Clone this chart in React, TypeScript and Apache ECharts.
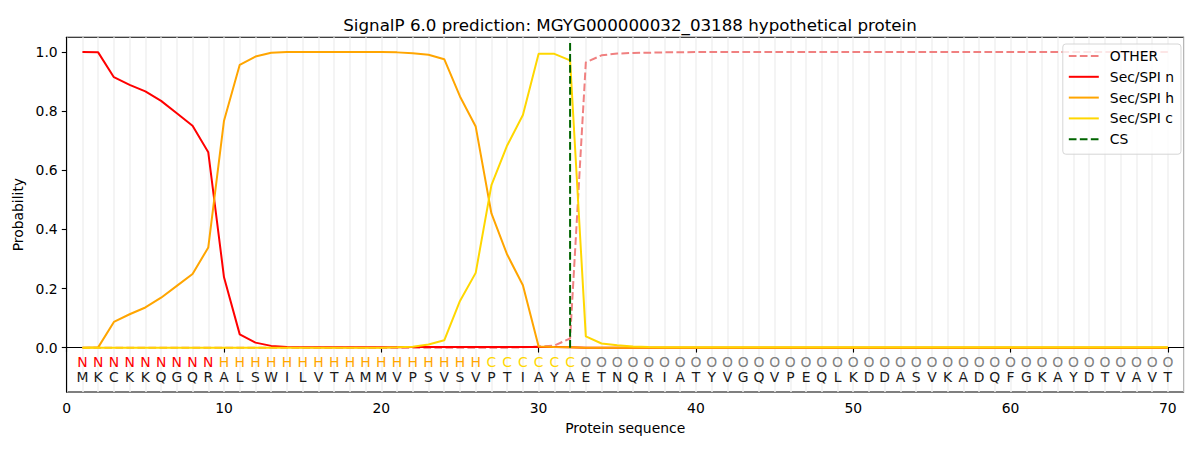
import React, { useEffect, useRef } from "react";
import * as echarts from "echarts";

const sequence = "MKCKKQGQRALSWILVTAMMVPSVSVPTIAYAETNQRIATYVGQVPEQLKDDASVKADQFGKAYDTVAVT".split("");
const regionLabels = [
  ..."NNNNNNNNN".split(""),
  ..."HHHHHHHHHHHHHHHHH".split(""),
  ..."CCCCCC".split(""),
  ..."OOOOOOOOOOOOOOOOOOOOOOOOOOOOOOOOOOOOOO".split(""),
];
const positions = sequence.map((_, i) => i + 1);

const otherProb = [
  0, 0, 0, 0, 0, 0, 0, 0, 0, 0,
  0, 0, 0, 0, 0, 0, 0, 0, 0, 0,
  0, 0, 0, 0, 0, 0, 0, 0, 0.001, 0.004,
  0.007, 0.031, 0.965, 0.989, 0.995, 0.997, 0.998, 0.999, 0.999, 1.0,
  1.0, 1.0, 1.0, 1.0, 1.0, 1.0, 1.0, 1.0, 1.0, 1.0,
  1.0, 1.0, 1.0, 1.0, 1.0, 1.0, 1.0, 1.0, 1.0, 1.0,
  1.0, 1.0, 1.0, 1.0, 1.0, 1.0, 1.0, 1.0, 1.0, 1.0,
];
const nProb = [
  1.0, 0.999, 0.915, 0.889, 0.867, 0.835, 0.793, 0.751, 0.661, 0.238,
  0.045, 0.017, 0.006, 0.002, 0.001, 0.001, 0.001, 0.001, 0.001, 0.001,
  0.001, 0.002, 0.002, 0.002, 0.002, 0.002, 0.002, 0.002, 0.002, 0.002,
  0.002, 0.001, 0, 0, 0, 0, 0, 0, 0, 0,
  0, 0, 0, 0, 0, 0, 0, 0, 0, 0,
  0, 0, 0, 0, 0, 0, 0, 0, 0, 0,
  0, 0, 0, 0, 0, 0, 0, 0, 0, 0,
];
const hProb = [
  0, 0.001, 0.087, 0.113, 0.136, 0.169, 0.209, 0.249, 0.339, 0.768,
  0.957, 0.985, 0.998, 1.0, 1.0, 1.0, 1.0, 1.0, 1.0, 1.0,
  0.999, 0.996, 0.991, 0.976, 0.85, 0.748, 0.454, 0.315, 0.211, 0.004,
  0.002, 0.001, 0, 0, 0, 0, 0, 0, 0, 0,
  0, 0, 0, 0, 0, 0, 0, 0, 0, 0,
  0, 0, 0, 0, 0, 0, 0, 0, 0, 0,
  0, 0, 0, 0, 0, 0, 0, 0, 0, 0,
];
const cProb = [
  0, 0, 0, 0, 0, 0, 0, 0, 0, 0,
  0, 0, 0, 0, 0, 0, 0, 0, 0, 0,
  0.001, 0.003, 0.011, 0.025, 0.158, 0.253, 0.55, 0.684, 0.787, 0.994,
  0.994, 0.972, 0.038, 0.014, 0.008, 0.004, 0.002, 0.001, 0.001, 0.001,
  0.001, 0.001, 0.001, 0.001, 0.001, 0.001, 0.001, 0.001, 0.001, 0.001,
  0.001, 0.001, 0.001, 0.001, 0.001, 0.001, 0.001, 0.001, 0.001, 0.001,
  0.001, 0.001, 0.001, 0.001, 0.001, 0.001, 0.001, 0.001, 0.001, 0.001,
];
const csPosition = 32;
const csLine = [[csPosition, 0], [csPosition, 1.036]];

const xTicks = [0, 10, 20, 30, 40, 50, 60, 70];
const yTicks = [0, 0.2, 0.4, 0.6, 0.8, 1.0];

const regionColors: Record<string, string> = {
  N: "#ff0000",
  H: "#ffa500",
  C: "#ffd700",
  O: "#808080",
};

const FONT = "DejaVu Sans";

export default function App() {
  const ref = useRef<HTMLDivElement>(null);
  useEffect(() => {
    document.body.style.margin = "0";
    const chart = echarts.init(ref.current!, null, { renderer: "svg" });
    const textData = positions.flatMap((p, i) => [
      [p, -0.047, regionLabels[i], regionColors[regionLabels[i]]],
      [p, -0.1, sequence[i], "#1a1a1a"],
    ]);
    const mk = (name: string, vals: number[], color: string, dashed = false) => ({
      name,
      type: "line",
      data: positions.map((p, i) => [p, vals[i]]),
      symbol: "none",
      lineStyle: { color, width: 2, type: dashed ? [7.7, 3.3] : "solid" },
      itemStyle: { color },
      z: 3,
    });
    chart.setOption({
      animation: false,
      textStyle: { fontFamily: FONT },
      title: {
        text: "SignalP 6.0 prediction: MGYG000000032_03188 hypothetical protein",
        left: 625,
        textAlign: "center",
        top: 11,
        textStyle: { fontFamily: FONT, fontSize: 16.7, fontWeight: "normal", color: "#000" },
      },
      legend: {
        orient: "vertical",
        right: 19,
        top: 44,
        itemWidth: 30,
        itemHeight: 14,
        itemGap: 6.8,
        padding: [5, 7, 8, 5],
        borderColor: "#d6d6d6",
        borderWidth: 1,
        borderRadius: 3,
        backgroundColor: "rgba(255,255,255,0.8)",
        align: "left",
        itemStyle: { opacity: 0 },
        textStyle: { fontFamily: FONT, fontSize: 13.9, color: "#000", padding: [0, 0, 0, 6] },
        data: ["OTHER", "Sec/SPI n", "Sec/SPI h", "Sec/SPI c", "CS"],
      },
      grid: {
        left: 66.7,
        right: 16.4,
        top: 37.3,
        bottom: 58,
        show: true,
        borderColor: "#000",
        borderWidth: 1.1,
        backgroundColor: "transparent",
      },
      xAxis: [
        {
          type: "value",
          min: 0,
          max: 71,
          name: "Protein sequence",
          nameLocation: "middle",
          nameGap: 29,
          nameTextStyle: { fontFamily: FONT, fontSize: 13.9, color: "#000" },
          axisLine: { show: true, lineStyle: { color: "#000", width: 1.1 } },
          axisTick: { show: true, length: 4.9, customValues: xTicks, lineStyle: { color: "#000", width: 1.1 } },
          axisLabel: { customValues: xTicks, margin: 9, fontFamily: FONT, fontSize: 13.9, color: "#000" },
          splitLine: { show: false },
        },
        {
          type: "value",
          min: 0,
          max: 71,
          interval: 1,
          position: "bottom",
          axisLine: { show: false },
          axisTick: { show: false },
          axisLabel: { show: false },
          splitLine: { show: true, lineStyle: { color: "#f0f0f0", width: 1.5 } },
        },
      ],
      yAxis: {
        type: "value",
        min: -0.15,
        max: 1.05,
        name: "Probability",
        nameLocation: "middle",
        nameGap: 35,
        nameTextStyle: { fontFamily: FONT, fontSize: 13.9, color: "#000" },
        axisLine: { show: true, lineStyle: { color: "#000", width: 1.1 } },
        axisTick: { show: true, length: 4.9, customValues: yTicks, lineStyle: { color: "#000", width: 1.1 } },
        axisLabel: {
          customValues: yTicks,
          margin: 9,
          fontFamily: FONT,
          fontSize: 13.9,
          color: "#000",
          formatter: (v: number) => v.toFixed(1),
        },
        splitLine: { show: false },
      },
      series: [
        mk("OTHER", otherProb, "#f08080", true),
        mk("Sec/SPI n", nProb, "#ff0000"),
        mk("Sec/SPI h", hProb, "#ffa500"),
        mk("Sec/SPI c", cProb, "#ffd700"),
        {
          name: "CS",
          type: "line",
          data: csLine,
          symbol: "none",
          lineStyle: { color: "#006400", width: 2, type: [7.7, 3.3] },
          itemStyle: { color: "#006400" },
          z: 4,
        },
        {
          name: "letters",
          type: "custom",
          data: textData,
          z: 5,
          renderItem: (params: any, api: any) => {
            const pt = api.coord([api.value(0), api.value(1)]);
            const d = textData[params.dataIndex];
            return {
              type: "text",
              x: pt[0],
              y: pt[1],
              style: {
                text: d[2] as string,
                fill: d[3] as string,
                font: `13.9px "${FONT}"`,
                textAlign: "center",
                textVerticalAlign: "middle",
              },
            };
          },
        },
      ],
    });
    return () => chart.dispose();
  }, []);
  return <div ref={ref} style={{ width: 1200, height: 450 }} />;
}
